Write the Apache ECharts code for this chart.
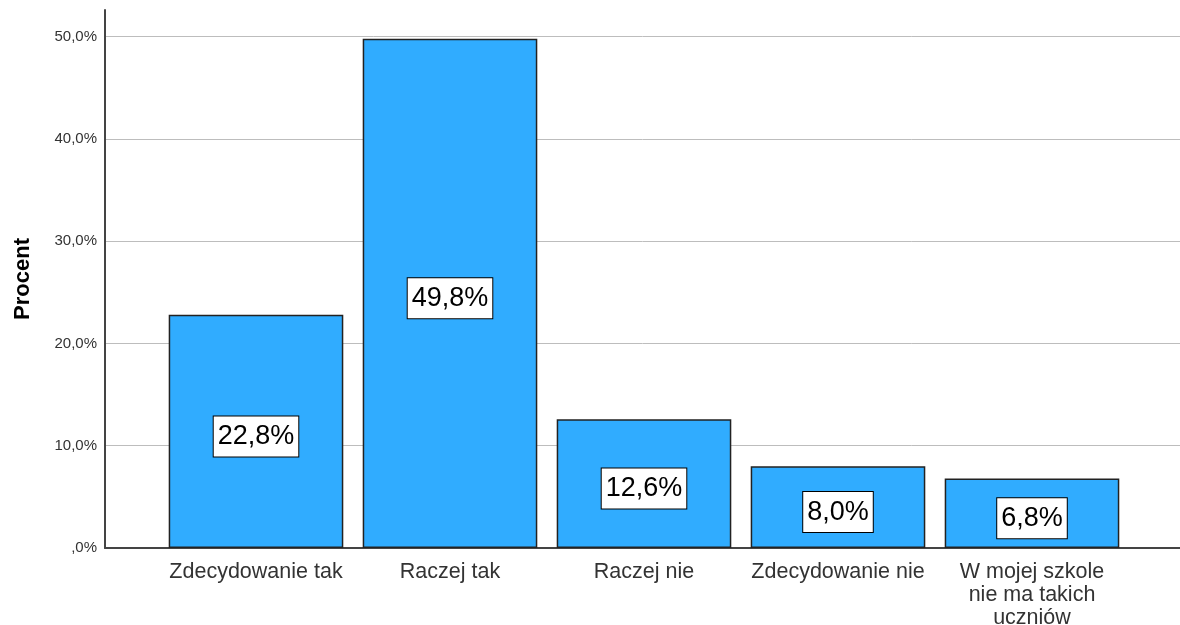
<!DOCTYPE html>
<html>
<head>
<meta charset="utf-8">
<script src="https://cdn.jsdelivr.net/npm/echarts@6/dist/echarts.min.js"></script>
<style>
html, body { margin: 0; padding: 0; background: #fff; }
#myChart { width: 1180px; height: 625px; }
</style>
</head>
<body>
<div id="myChart"></div>
<script>
// dane wykresu
const categories = ['Zdecydowanie tak', 'Raczej tak', 'Raczej nie', 'Zdecydowanie nie', 'W mojej szkole\nnie ma takich\nuczniów'];
const percents = [22.8, 49.8, 12.6, 8.0, 6.8];
const yMin = 0;
const yMax = 52.6;
const yStep = 10;

const fmtPct = function (v) {
	if (v === 0) return ',0%';
	return v.toFixed(1).replace('.', ',') + '%';
};

const myChart = echarts.init(document.getElementById('myChart'));

const option = {
	animation: false,
	textStyle: { fontFamily: 'Liberation Sans, Arial, sans-serif' },
	grid: [
		{ left: 105, right: 0, top: 10, bottom: 77, outerBoundsMode: 'none' },
		{ left: 159, right: 51, top: 10, bottom: 77, outerBoundsMode: 'none' }
	],
	xAxis: [
		{
			gridIndex: 0,
			type: 'category',
			data: [''],
			axisTick: { show: false },
			axisLabel: { show: false },
			axisLine: { lineStyle: { color: '#444', width: 2 } }
		},
		{
			gridIndex: 1,
			type: 'category',
			data: categories,
			axisTick: { show: false },
			axisLine: { show: false },
			axisLabel: {
				color: '#333',
				fontSize: 21.5,
				margin: 13,
				lineHeight: 23,
				interval: 0
			}
		}
	],
	yAxis: [
		{
			gridIndex: 0,
			type: 'value',
			min: yMin,
			max: yMax,
			interval: yStep,
			name: 'Procent',
			nameLocation: 'middle',
			nameGap: 71,
			nameTextStyle: { fontSize: 22, fontWeight: 'bold', color: '#000' },
			axisLine: { show: true, lineStyle: { color: '#444', width: 2 } },
			axisTick: { show: false },
			axisLabel: {
				color: '#333',
				fontSize: 15,
				margin: 8,
				showMaxLabel: false,
				formatter: fmtPct
			},
			splitLine: { show: true, showMaxLine: false, lineStyle: { color: '#bdbdbd', width: 1 } }
		},
		{
			gridIndex: 1,
			type: 'value',
			min: yMin,
			max: yMax,
			interval: yStep,
			show: false,
			splitLine: { show: false }
		}
	],
	series: [
		{
			type: 'bar',
			xAxisIndex: 1,
			yAxisIndex: 1,
			data: percents,
			barCategoryGap: '10%',
			itemStyle: { color: '#30acff', borderColor: '#222', borderWidth: 1.5 },
			label: {
				show: true,
				position: 'inside',
				offset: [0, 5],
				color: '#000',
				fontSize: 27,
				backgroundColor: '#fff',
				borderColor: '#000',
				borderWidth: 1,
				padding: [7, 4, 6, 4],
				formatter: function (p) { return fmtPct(p.value); }
			}
		}
	]
};

myChart.setOption(option);
</script>
</body>
</html>
